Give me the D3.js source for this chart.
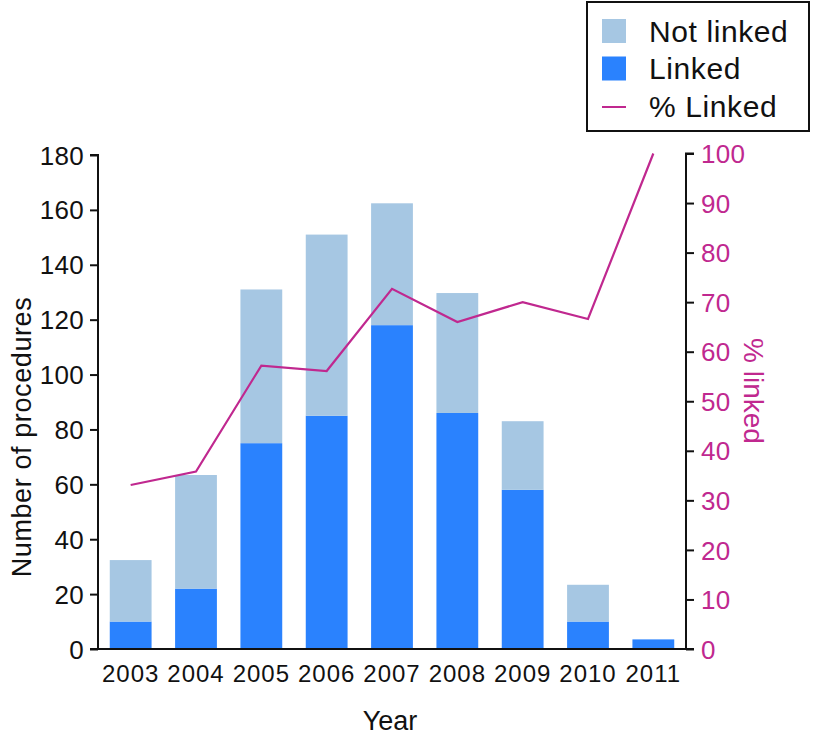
<!DOCTYPE html>
<html><head><meta charset="utf-8">
<script src="https://cdn.jsdelivr.net/npm/d3@7/dist/d3.min.js"></script>
<style>body{margin:0;background:#fff}svg{display:block;font-family:"Liberation Sans",Arial,sans-serif}</style>
</head><body><svg id="c" width="813" height="738"></svg>
<script>
const years = ["2003","2004","2005","2006","2007","2008","2009","2010","2011"];
const linked = [10,22,75,85,118,86,58,10,3.5];
const notLinked = [22.4,41.4,56,66,44.4,43.7,25,13.4,0];
const pctLinked = [33.1,35.8,57.2,56.1,72.7,66,70,66.6,100];
const leftTicks = [0,20,40,60,80,100,120,140,160,180];
const rightTicks = [0,10,20,30,40,50,60,70,80,90,100];

const cLight="#a6c7e3", cDark="#2a82fe", cLine="#c0288f";
const svg=d3.select("#c");
const x=d3.scaleBand().domain(years).range([98,686]).paddingInner(0.36).paddingOuter(0.18);
const y=d3.scaleLinear().domain([0,180]).range([649,155]);
const y2=d3.scaleLinear().domain([0,100]).range([649,153.5]);

const stack=d3.stack().keys(["linked","notLinked"])(years.map((yr,i)=>({year:yr,linked:linked[i],notLinked:notLinked[i]})));
const colors={linked:cDark,notLinked:cLight};
svg.append("g").selectAll("g").data(stack).join("g").attr("fill",d=>colors[d.key])
  .selectAll("rect").data(d=>d).join("rect")
  .attr("x",d=>x(d.data.year)).attr("width",x.bandwidth())
  .attr("y",d=>y(d[1])).attr("height",d=>y(d[0])-y(d[1]));

// axes
const la=svg.append("g").attr("transform","translate(98,0)").call(d3.axisLeft(y).tickValues(leftTicks).tickSize(8).tickPadding(6));
la.selectAll("text").attr("font-size",26).attr("letter-spacing",0.3).attr("fill","#111").attr("dy","0.35em");
la.selectAll("line,path").attr("stroke","#111").attr("stroke-width",2);
la.select(".domain").attr("d","M-8,649H0V155H-8");

const ra=svg.append("g").attr("transform","translate(686,0)").call(d3.axisRight(y2).tickValues(rightTicks).tickSize(8).tickPadding(7));
ra.selectAll("text").attr("font-size",26).attr("letter-spacing",0.3).attr("fill",cLine).attr("dy","0.35em");
ra.selectAll("line,path").attr("stroke","#111").attr("stroke-width",2);
ra.select(".domain").attr("d","M8,649H0V153.5H8");

// x axis line
svg.append("line").attr("x1",97).attr("x2",687).attr("y1",649).attr("y2",649).attr("stroke","#111").attr("stroke-width",2);
svg.append("g").selectAll("text").data(years).join("text")
  .attr("x",d=>x(d)+x.bandwidth()/2).attr("y",681.5).attr("text-anchor","middle")
  .attr("font-size",24).attr("letter-spacing",1).attr("fill","#111").text(d=>d);

// line
svg.append("path").datum(pctLinked).attr("fill","none").attr("stroke",cLine).attr("stroke-width",2.2)
  .attr("d",d3.line().x((d,i)=>x(years[i])+x.bandwidth()/2).y(d=>y2(d)));

// titles
svg.append("text").attr("x",390).attr("y",730).attr("text-anchor","middle").attr("font-size",27).attr("fill","#111").text("Year");
svg.append("text").attr("transform","translate(31,437) rotate(-90)").attr("text-anchor","middle").attr("font-size",27).attr("letter-spacing",0.6).attr("fill","#111").text("Number of procedures");
svg.append("text").attr("transform","translate(744,391) rotate(90)").attr("text-anchor","middle").attr("font-size",28).attr("fill",cLine).text("% linked");

// legend
const lg=svg.append("g");
lg.append("rect").attr("x",587).attr("y",2).attr("width",222).attr("height",129).attr("fill","#fff").attr("stroke","#111").attr("stroke-width",2);
const items=[{t:"Not linked",c:cLight,type:"rect"},{t:"Linked",c:cDark,type:"rect"},{t:"% Linked",c:cLine,type:"line"}];
items.forEach((it,i)=>{
  const cy=31+i*37.5;
  if(it.type==="rect") lg.append("rect").attr("x",602).attr("y",cy-12).attr("width",24).attr("height",24).attr("fill",it.c);
  else lg.append("line").attr("x1",602).attr("x2",626).attr("y1",cy+1).attr("y2",cy+1).attr("stroke",it.c).attr("stroke-width",2);
  lg.append("text").attr("x",649).attr("y",cy).attr("dy","0.35em").attr("font-size",30).attr("letter-spacing",0.6).attr("fill","#111").text(it.t);
});
</script></body></html>
